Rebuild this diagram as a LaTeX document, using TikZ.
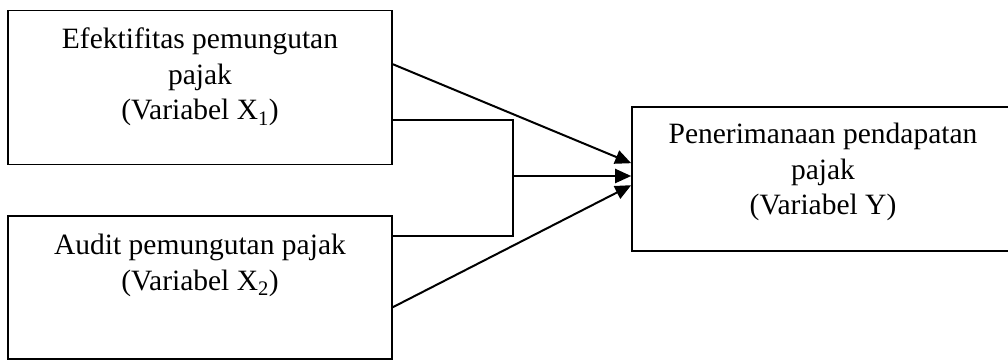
\documentclass[tikz,border=0pt]{standalone}
\usepackage{fontspec}
\setmainfont{Liberation Serif}
\usetikzlibrary{arrows.meta,calc}
\begin{document}
\begin{tikzpicture}[x=1pt,y=-1pt,
  box/.style={draw,line width=1.6pt,rectangle,inner sep=0pt},
  txt/.style={align=center,inner sep=0pt,anchor=north,font=\fontsize{29.5}{35.5}\selectfont},
  conn/.style={line width=2pt},
  arr/.style={conn,-{Triangle[length=16pt,width=14pt]}}]
\useasboundingbox (0,0) rectangle (1008,360);
\clip (0,0) rectangle (1008,360);
\fill[white] (0,0) rectangle (1008,360);
\node[box,minimum width=384pt,minimum height=154pt] (b1) at (200,87.5) {};
\node[box,minimum width=384pt,minimum height=143pt] (b2) at (200,287.5) {};
\node[box,minimum width=440pt,minimum height=144pt] (by) at (852,179) {};
\node[txt] (t1) at (200,28) {Efektifitas pemungutan\\pajak\\(Variabel X\textsubscript{1})};
\node[txt] (t2) at (200,234) {Audit pemungutan pajak\\(Variabel X\textsubscript{2})};
\node[txt] (ty) at (823,123) {Penerimanaan pendapatan\\pajak\\(Variabel Y)};
\coordinate (j) at (513,176);
\draw[arr] ($(b1.north east)+(0,54.5)$) -- ($(by.north west)+(0,57)$);
\draw[conn] ($(b1.north east)+(0,110.5)$) -| (j) |- ($(b2.north east)+(0,21)$);
\draw[arr] (j) -- (j -| by.west);
\draw[arr] ($(b2.north east)+(0,92)$) -- ($(by.north west)+(0,79)$);
\end{tikzpicture}
\end{document}
